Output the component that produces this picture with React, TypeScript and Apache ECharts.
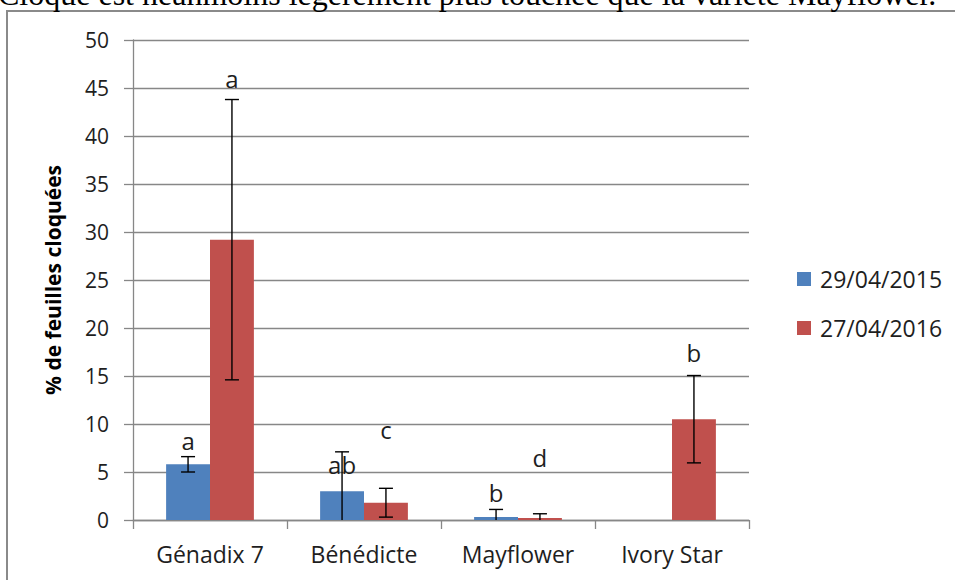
import React, { useEffect, useRef } from "react";
import * as echarts from "echarts";

const categories = ["Génadix 7", "Bénédicte", "Mayflower", "Ivory Star"];
const seriesNames = ["29/04/2015", "27/04/2016"];
const values2015 = [5.8, 3.0, 0.3, 0];
const values2016 = [29.2, 1.8, 0.2, 10.5];
const err2015 = [0.8, 4.1, 0.8, 0];
const err2016 = [14.6, 1.5, 0.45, 4.55];
const letters2015 = ["a", "ab", "b", ""];
const letters2016 = ["a", "c", "d", "b"];
const letterAt2015 = [8.3, 5.8, 2.9, 0];
const letterAt2016 = [46.0, 9.4, 6.5, 17.5];
const yTicks = { min: 0, max: 50, interval: 5 };
const headerText = "Cloque est néanmoins légèrement plus touchée que la variété Mayflower.";

const FONT = '"Open Sans", sans-serif';
const GRAY = "#878787";
const TEXT = "#1e1e1e";

function errorSeries(values: number[], errs: number[], letters: string[], letterAt: number[], side: number) {
  const data = values.map((v, i) => [i, v - errs[i], v + errs[i], errs[i], letterAt[i], letters[i]]);
  return {
    type: "custom",
    z: 5,
    clip: false,
    silent: true,
    data,
    renderItem: (params: any, api: any) => {
      const i = api.value(0);
      const lowV = api.value(1);
      const highV = api.value(2);
      const e = api.value(3);
      const letterY = api.value(4);
      const d = data[params.dataIndex];
      const letter = d[5] as string;
      const catW = api.size([1, 0])[0];
      const off = side * catW * 0.57 / 4;
      const children: any[] = [];
      const cx = api.coord([i, 0])[0] + off;
      if (e > 0) {
        const clipped = lowV < 0;
        const yLow = api.coord([i, Math.max(lowV, 0)])[1];
        const yHigh = api.coord([i, highV])[1];
        const style = { stroke: "#000", lineWidth: 1.4 };
        children.push({ type: "line", shape: { x1: cx, y1: yLow, x2: cx, y2: yHigh }, style });
        children.push({ type: "line", shape: { x1: cx - 7, y1: yHigh, x2: cx + 7, y2: yHigh }, style });
        if (!clipped) {
          children.push({ type: "line", shape: { x1: cx - 7, y1: yLow, x2: cx + 7, y2: yLow }, style });
        }
      }
      if (letter) {
        const ly = api.coord([i, letterY])[1];
        children.push({
          type: "text",
          x: cx,
          y: ly,
          style: {
            text: letter,
            fontSize: 24,
            fontFamily: FONT,
            fill: TEXT,
            align: "center",
            verticalAlign: "middle",
          },
        });
      }
      return { type: "group", children };
    },
  };
}

export default function App() {
  const ref = useRef<HTMLDivElement>(null);
  useEffect(() => {
    document.body.style.margin = "0";
    const chart = echarts.init(ref.current!, null, { renderer: "svg" });
    chart.setOption({
      animation: false,
      backgroundColor: "#ffffff",
      graphic: [
        {
          type: "text",
          x: -2,
          y: 10,
          z: 10,
          style: {
            text: headerText,
            font: '32px "Liberation Serif", serif',
            fill: "#000",
            verticalAlign: "bottom",
          },
        },
        {
          type: "rect",
          z: -1,
          shape: { x: 7, y: 11, width: 1000, height: 620 },
          style: { fill: "none", stroke: "#8a8a8a", lineWidth: 2 },
        },
      ],
      legend: {
        orient: "vertical",
        left: 792,
        top: 262,
        itemWidth: 14,
        itemHeight: 14,
        itemGap: 25,
        icon: "rect",
        data: seriesNames,
        textStyle: { fontSize: 23, fontFamily: FONT, color: TEXT, lineHeight: 24, padding: [0, 0, 0, 4] },
      },
      grid: { left: 133, top: 40, width: 616, height: 480 },
      xAxis: {
        type: "category",
        data: categories,
        axisLine: { lineStyle: { color: GRAY, width: 1.3 } },
        axisTick: { show: true, length: 9, lineStyle: { color: GRAY, width: 1.3 } },
        axisLabel: { fontSize: 23, fontFamily: FONT, color: TEXT, margin: 22 },
      },
      yAxis: {
        type: "value",
        min: yTicks.min,
        max: yTicks.max,
        interval: yTicks.interval,
        name: "% de feuilles cloquées",
        nameLocation: "middle",
        nameGap: 70,
        nameTextStyle: { fontSize: 21, fontWeight: "bold", fontFamily: FONT, color: "#000" },
        axisLine: { show: true, lineStyle: { color: GRAY, width: 1.3 } },
        axisTick: { show: true, length: 9, lineStyle: { color: GRAY, width: 1.3 } },
        axisLabel: { fontSize: 21, fontFamily: FONT, color: TEXT, margin: 24 },
        splitLine: { lineStyle: { color: GRAY, width: 1.3 } },
      },
      series: [
        {
          name: seriesNames[0],
          type: "bar",
          data: values2015,
          barGap: "0%",
          barCategoryGap: "43%",
          itemStyle: { color: "#4F81BD" },
        },
        {
          name: seriesNames[1],
          type: "bar",
          data: values2016,
          barGap: "0%",
          barCategoryGap: "43%",
          itemStyle: { color: "#C0504D" },
        },
        errorSeries(values2015, err2015, letters2015, letterAt2015, -1),
        errorSeries(values2016, err2016, letters2016, letterAt2016, 1),
      ],
    });
    return () => chart.dispose();
  }, []);
  return <div ref={ref} style={{ width: 955, height: 580 }} />;
}
